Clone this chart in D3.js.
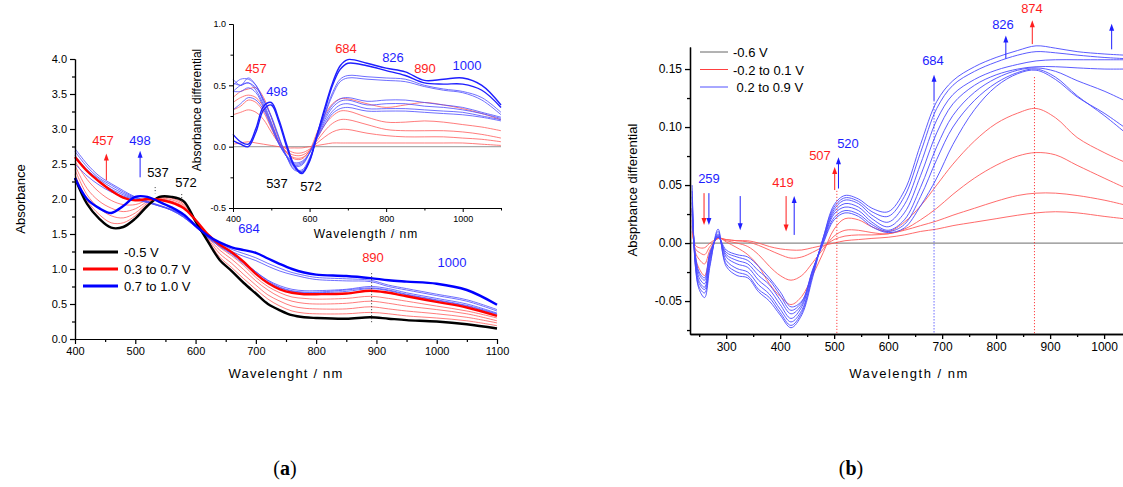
<!DOCTYPE html>
<html>
<head>
<meta charset="utf-8">
<script src="https://cdn.jsdelivr.net/npm/d3@7"></script>
<style>
body { margin: 0; background: #fff; }
text { font-family: "Liberation Sans", Arial, sans-serif; }
</style>
</head>
<body>
<script>
const w = 1123;
const h = 487;

// ---- panel (a), main spectra ----
const wlA = [400,420,440,460,480,500,520,540,560,580,600,620,640,660,680,700,720,740,760,780,800,850,890,920,950,1000,1050,1100];
const blackA = [2.3,1.93,1.72,1.59,1.6,1.72,1.9,2.03,2.03,1.97,1.68,1.4,1.13,0.97,0.8,0.65,0.5,0.41,0.34,0.31,0.3,0.29,0.31,0.29,0.27,0.25,0.21,0.15];
const redThickA = [2.6,2.4,2.25,2.12,2.02,1.98,2.0,1.99,1.95,1.87,1.7,1.5,1.35,1.24,1.1,0.93,0.8,0.71,0.66,0.64,0.64,0.65,0.69,0.66,0.61,0.53,0.45,0.33];
const redThinA = [
  [2.35,1.98,1.78,1.66,1.66,1.76,1.92,2.03,2.02,1.95,1.7,1.42,1.17,1.02,0.86,0.71,0.57,0.47,0.4,0.37,0.36,0.36,0.38,0.36,0.33,0.3,0.26,0.19],
  [2.42,2.06,1.87,1.76,1.73,1.8,1.94,2.02,2.01,1.93,1.7,1.44,1.22,1.08,0.92,0.77,0.63,0.54,0.47,0.44,0.43,0.43,0.46,0.43,0.4,0.36,0.31,0.23],
  [2.48,2.15,1.97,1.87,1.82,1.86,1.96,2.01,1.99,1.91,1.7,1.46,1.27,1.14,0.99,0.83,0.7,0.6,0.54,0.51,0.5,0.51,0.54,0.51,0.47,0.42,0.36,0.26],
  [2.54,2.28,2.1,1.98,1.92,1.92,1.98,2.0,1.97,1.89,1.7,1.48,1.31,1.19,1.05,0.88,0.75,0.66,0.6,0.58,0.57,0.58,0.61,0.58,0.54,0.47,0.4,0.3]
];
const blueThickA = [2.3,2.0,1.87,1.8,1.9,2.03,2.03,1.96,1.88,1.78,1.62,1.48,1.38,1.31,1.27,1.23,1.15,1.07,1.0,0.95,0.92,0.9,0.87,0.84,0.82,0.79,0.7,0.49];
const blueThinA = [
  [2.62,2.42,2.28,2.17,2.08,2.01,1.96,1.91,1.85,1.76,1.62,1.48,1.37,1.28,1.22,1.16,1.08,1.01,0.95,0.91,0.88,0.86,0.84,0.77,0.72,0.64,0.56,0.42],
  [2.68,2.46,2.3,2.2,2.1,2.02,1.96,1.9,1.84,1.75,1.61,1.46,1.34,1.25,1.18,1.12,1.04,0.97,0.92,0.88,0.85,0.83,0.82,0.75,0.7,0.62,0.54,0.4],
  [2.72,2.5,2.33,2.22,2.12,2.03,1.97,1.91,1.84,1.74,1.6,1.45,1.33,1.22,1.09,0.96,0.84,0.76,0.71,0.69,0.69,0.71,0.75,0.72,0.66,0.58,0.5,0.37],
  [2.58,2.4,2.25,2.14,2.06,2.0,1.95,1.9,1.84,1.74,1.6,1.45,1.32,1.21,1.07,0.93,0.81,0.73,0.68,0.66,0.66,0.68,0.72,0.69,0.63,0.55,0.47,0.35],
  [2.5,2.33,2.2,2.1,2.04,1.99,1.95,1.9,1.85,1.76,1.62,1.47,1.34,1.23,1.1,0.96,0.83,0.74,0.69,0.67,0.67,0.7,0.73,0.7,0.64,0.56,0.48,0.36]
];
const legendA = ["-0.5 V", "0.3 to 0.7 V", "0.7 to 1.0 V"];

// ---- panel (a), inset differential spectra ----
const wlI = [400,420,440,460,480,500,520,540,560,580,600,620,640,660,680,700,750,800,850,900,950,1000,1050,1100];
const redI = [
  [0.02,0.03,0.04,0.03,0.02,0.01,0.0,-0.01,-0.01,-0.01,0.0,0.01,0.02,0.03,0.03,0.03,0.03,0.03,0.03,0.03,0.03,0.03,0.02,0.01],
  [0.26,0.28,0.3,0.28,0.22,0.12,0.03,-0.02,-0.05,-0.05,-0.02,0.03,0.08,0.12,0.14,0.14,0.11,0.09,0.08,0.08,0.08,0.07,0.06,0.04],
  [0.3,0.33,0.38,0.36,0.28,0.15,0.03,-0.04,-0.07,-0.07,-0.03,0.05,0.13,0.19,0.22,0.22,0.18,0.14,0.13,0.13,0.13,0.12,0.1,0.07],
  [0.36,0.4,0.42,0.4,0.32,0.18,0.04,-0.05,-0.09,-0.09,-0.04,0.07,0.18,0.25,0.29,0.29,0.24,0.2,0.2,0.21,0.2,0.18,0.16,0.13],
  [0.4,0.45,0.47,0.48,0.4,0.24,0.06,-0.05,-0.1,-0.1,-0.03,0.12,0.26,0.35,0.39,0.39,0.35,0.32,0.34,0.36,0.34,0.31,0.27,0.22]
];
const blueThickI = [
  [0.05,0.02,0.0,0.12,0.3,0.34,0.2,0.0,-0.16,-0.22,-0.12,0.1,0.32,0.52,0.66,0.71,0.68,0.64,0.61,0.54,0.55,0.56,0.5,0.34],
  [0.1,0.04,0.02,0.15,0.33,0.36,0.22,0.02,-0.15,-0.21,-0.11,0.1,0.3,0.5,0.63,0.68,0.66,0.62,0.58,0.52,0.51,0.51,0.46,0.32]
];
const blueThinI = [
  [0.45,0.5,0.52,0.48,0.38,0.25,0.08,-0.08,-0.19,-0.2,-0.1,0.08,0.27,0.44,0.55,0.58,0.57,0.56,0.55,0.5,0.47,0.45,0.4,0.28],
  [0.5,0.55,0.55,0.5,0.38,0.24,0.07,-0.08,-0.18,-0.19,-0.09,0.08,0.26,0.42,0.53,0.56,0.55,0.54,0.53,0.49,0.46,0.44,0.38,0.26],
  [0.55,0.5,0.56,0.5,0.36,0.2,0.04,-0.08,-0.16,-0.15,-0.05,0.1,0.24,0.34,0.39,0.4,0.37,0.38,0.38,0.36,0.34,0.32,0.28,0.24],
  [0.52,0.5,0.52,0.46,0.34,0.19,0.03,-0.08,-0.15,-0.14,-0.05,0.09,0.22,0.32,0.37,0.38,0.34,0.35,0.35,0.33,0.32,0.3,0.27,0.23],
  [0.45,0.45,0.48,0.44,0.32,0.17,0.02,-0.08,-0.14,-0.13,-0.05,0.08,0.2,0.29,0.34,0.35,0.31,0.31,0.31,0.3,0.29,0.28,0.25,0.22],
  [0.3,0.35,0.4,0.38,0.3,0.16,0.02,-0.07,-0.13,-0.12,-0.05,0.07,0.18,0.27,0.31,0.32,0.29,0.29,0.29,0.28,0.27,0.26,0.24,0.21]
];

// ---- panel (b) ----
const wlB = [237,243,250,260,270,285,300,320,340,360,380,400,420,440,460,480,500,520,545,570,600,630,660,690,720,760,800,840,874,910,950,1000,1037];
const blueB = [
  [0.05,-0.02,-0.04,-0.047,-0.02,0.012,-0.02,-0.028,-0.03,-0.042,-0.05,-0.062,-0.073,-0.062,-0.03,0.005,0.033,0.041,0.038,0.03,0.027,0.045,0.085,0.122,0.14,0.152,0.16,0.166,0.17,0.168,0.165,0.163,0.162],
  [0.045,-0.02,-0.038,-0.043,-0.018,0.01,-0.018,-0.025,-0.028,-0.04,-0.047,-0.06,-0.071,-0.06,-0.028,0.005,0.031,0.039,0.036,0.027,0.023,0.04,0.078,0.116,0.136,0.148,0.156,0.162,0.165,0.164,0.162,0.16,0.159],
  [0.04,-0.018,-0.035,-0.04,-0.015,0.008,-0.015,-0.022,-0.025,-0.036,-0.044,-0.057,-0.068,-0.058,-0.027,0.004,0.029,0.037,0.034,0.024,0.018,0.033,0.068,0.106,0.128,0.141,0.149,0.154,0.157,0.158,0.158,0.158,0.158],
  [0.035,-0.016,-0.033,-0.038,-0.013,0.007,-0.012,-0.018,-0.021,-0.032,-0.04,-0.053,-0.065,-0.055,-0.025,0.003,0.027,0.034,0.031,0.021,0.014,0.026,0.058,0.095,0.12,0.136,0.145,0.15,0.152,0.152,0.151,0.15,0.15],
  [0.03,-0.014,-0.03,-0.035,-0.011,0.006,-0.01,-0.015,-0.018,-0.028,-0.036,-0.049,-0.061,-0.053,-0.024,0.002,0.025,0.031,0.028,0.018,0.011,0.02,0.048,0.083,0.11,0.13,0.142,0.149,0.151,0.148,0.14,0.131,0.123],
  [0.028,-0.012,-0.027,-0.032,-0.009,0.005,-0.008,-0.012,-0.015,-0.024,-0.032,-0.045,-0.058,-0.051,-0.023,0.001,0.022,0.028,0.025,0.016,0.01,0.016,0.04,0.072,0.1,0.123,0.138,0.147,0.15,0.143,0.127,0.11,0.096],
  [0.025,-0.01,-0.025,-0.03,-0.008,0.005,-0.006,-0.01,-0.012,-0.02,-0.03,-0.042,-0.055,-0.05,-0.024,0.0,0.02,0.026,0.023,0.014,0.009,0.013,0.032,0.056,0.085,0.115,0.135,0.146,0.149,0.141,0.126,0.112,0.1]
];
const redB = [
  [0.01,-0.002,-0.004,-0.004,0.0,0.004,0.003,0.002,0.002,0.0,-0.003,-0.005,-0.006,-0.006,-0.004,-0.002,0.0,0.002,0.003,0.004,0.005,0.007,0.01,0.012,0.015,0.018,0.021,0.024,0.026,0.027,0.026,0.023,0.021],
  [0.015,-0.005,-0.008,-0.01,-0.003,0.004,0.003,0.002,0.001,-0.002,-0.006,-0.01,-0.013,-0.012,-0.008,-0.003,0.003,0.006,0.007,0.007,0.008,0.011,0.015,0.019,0.024,0.03,0.036,0.041,0.043,0.043,0.041,0.037,0.033],
  [0.02,-0.008,-0.014,-0.018,-0.006,0.004,0.002,0.0,-0.003,-0.01,-0.02,-0.028,-0.032,-0.028,-0.017,-0.005,0.006,0.011,0.011,0.009,0.008,0.012,0.02,0.03,0.042,0.056,0.067,0.075,0.078,0.076,0.067,0.056,0.048],
  [0.03,-0.012,-0.022,-0.028,-0.01,0.005,0.001,-0.004,-0.01,-0.02,-0.035,-0.046,-0.053,-0.046,-0.028,-0.008,0.012,0.021,0.02,0.014,0.01,0.018,0.032,0.05,0.068,0.088,0.103,0.112,0.116,0.108,0.091,0.078,0.07]
];
const legendB = ["-0.6 V", "-0.2 to 0.1 V", " 0.2 to 0.9 V"];

const red = "#ff1e1e";
const blue = "#1e1eff";
const redThin = "#ff5a5a";
const blueThin = "#4a4aff";

const svg = d3.select("body").append("svg").attr("width", w).attr("height", h);

// scales
const xA = d3.scaleLinear().domain([400, 1100]).range([75, 497]);
const yA = d3.scaleLinear().domain([0, 4]).range([339, 59]);
const xI = d3.scaleLinear().domain([400, 1100]).range([233, 501]);
const yI = d3.scaleLinear().domain([-0.5, 1]).range([208, 24]);
const xB = d3.scaleLinear().domain([233, 1035]).range([690, 1123]);
const yB = d3.scaleLinear().domain([-0.0784, 0.169]).range([334, 47]);

const fmt = (f) => (d) => d3.format(f)(d).replace("\u2212", "-");

function drawAxes(x, y, o) {
	const xMinor = d3.range(o.xMin[0], o.xMin[1] + 1, o.xMin[2]);
	const yMinor = d3.range(o.yMin[0], o.yMin[1] + 1e-9, o.yMin[2]);
	const gx = svg.append("g").attr("transform", "translate(0," + y.range()[0] + ")");
	gx.call(d3.axisBottom(x).tickValues(xMinor).tickSize(o.minor).tickSizeOuter(0).tickFormat(""));
	gx.append("g").call(d3.axisBottom(x).tickValues(o.xMaj).tickSize(o.major).tickSizeOuter(0).tickFormat(d3.format("d")));
	const gy = svg.append("g").attr("transform", "translate(" + x.range()[0] + ",0)");
	gy.call(d3.axisLeft(y).tickValues(yMinor).tickSize(o.minor).tickSizeOuter(0).tickFormat(""));
	gy.append("g").call(d3.axisLeft(y).tickValues(o.yMaj).tickSize(o.major).tickSizeOuter(0).tickFormat(fmt(o.yFmt)));
	[gx, gy].forEach((g) => {
		g.selectAll("path.domain").attr("stroke", "#000").attr("stroke-width", o.lw);
		g.selectAll("line").attr("stroke", "#000").attr("stroke-width", o.lw);
		g.selectAll("text").attr("fill", "#000").style("font-size", o.fs + "px")
			.style("font-family", "'Liberation Sans', Arial, sans-serif");
	});
	gx.selectAll("text").attr("dy", o.fs * 0.75 + "px");
}

function drawLines(x, y, wl, series, color, width) {
	const line = d3.line().x((d, i) => x(wl[i])).y((d) => y(d)).curve(d3.curveCatmullRom.alpha(0.5));
	series.forEach((s) => {
		svg.append("path").datum(s).attr("d", line)
			.attr("fill", "none").attr("stroke", color).attr("stroke-width", width)
			.attr("stroke-linejoin", "round");
	});
}

function label(x, y, t, color, size, anchor) {
	return svg.append("text").attr("x", x).attr("y", y).attr("fill", color)
		.attr("text-anchor", anchor || "middle").style("font-size", (size || 13) + "px").text(t);
}

function arrow(x, y, wv, v0, v1, color) {
	const px = x(wv), p0 = y(v0), p1 = y(v1);
	const dir = p1 < p0 ? 1 : -1;
	svg.append("line").attr("x1", px).attr("x2", px).attr("y1", p0).attr("y2", p1 + dir * 5)
		.attr("stroke", color).attr("stroke-width", 1);
	svg.append("path")
		.attr("d", "M" + (px - 2.5) + "," + (p1 + dir * 7) + "L" + px + "," + p1 + "L" + (px + 2.5) + "," + (p1 + dir * 7) + "Z")
		.attr("fill", color);
}

function dotted(x, y, wv, v0, v1, color) {
	svg.append("line").attr("x1", x(wv)).attr("x2", x(wv)).attr("y1", y(v0)).attr("y2", y(v1))
		.attr("stroke", color).attr("stroke-width", 1).attr("stroke-dasharray", "1,2");
}

// ===== panel (a) main =====
drawLines(xA, yA, wlA, redThinA, redThin, 0.8);
drawLines(xA, yA, wlA, blueThinA, blueThin, 0.8);
drawLines(xA, yA, wlA, [blackA], "#000", 2.4);
drawLines(xA, yA, wlA, [redThickA], "#ff0000", 2.4);
drawLines(xA, yA, wlA, [blueThickA], "#0000ff", 2.4);

drawAxes(xA, yA, {
	xMaj: d3.range(400, 1101, 100), xMin: [450, 1050, 100],
	yMaj: d3.range(0, 4.01, 0.5), yMin: [0.25, 3.75, 0.5],
	yFmt: ".1f", major: 5, minor: 3, lw: 1.2, fs: 11
});

label(20, 199, "Absorbance", "#000", 13).attr("transform", "rotate(-90,20,199)").attr("dy", "0.35em");
label(286, 378, "Wavelenght / nm", "#000", 13).style("letter-spacing", "1.2px");

arrow(xA, yA, 452, 2.27, 2.65, red);
arrow(xA, yA, 508, 2.31, 2.69, blue);
label(103, 145, "457", red);
label(140, 145, "498", blue);
label(158, 177, "537", "#000");
label(186, 187, "572", "#000");
dotted(xA, yA, 533, 2.17, 2.08, "#333");
dotted(xA, yA, 577, 2.07, 1.97, "#333");
dotted(xA, yA, 892, 0.94, 0.24, "#333");
label(249, 233, "684", blue);
label(373, 262, "890", red);
label(452, 267, "1000", blue);

// legend (a)
legendA.forEach((t, i) => {
	const yy = 252 + i * 17;
	const c = ["#000", "#ff0000", "#0000ff"][i];
	svg.append("line").attr("x1", 83).attr("x2", 118).attr("y1", yy).attr("y2", yy)
		.attr("stroke", c).attr("stroke-width", 3);
	label(124, yy + 5, t, "#000", 13, "start");
});

// ===== panel (a) inset =====
svg.append("line").attr("x1", xI(400)).attr("x2", xI(1100)).attr("y1", yI(0)).attr("y2", yI(0))
	.attr("stroke", "#aaa").attr("stroke-width", 1.2);
drawLines(xI, yI, wlI, redI, redThin, 0.8);
drawLines(xI, yI, wlI, blueThinI, blueThin, 0.8);
drawLines(xI, yI, wlI, blueThickI, blue, 1.4);

drawAxes(xI, yI, {
	xMaj: [400, 600, 800, 1000], xMin: [500, 1100, 200],
	yMaj: [-0.5, 0, 0.5, 1.0], yMin: [-0.25, 0.75, 0.5],
	yFmt: ".1f", major: 4, minor: 2.5, lw: 1, fs: 9
});

label(197, 110, "Absorbance differential", "#000", 12).attr("transform", "rotate(-90,197,110)").attr("dy", "0.35em");
label(366, 238, "Wavelength / nm", "#000", 12).style("letter-spacing", "1px");
label(256, 73, "457", red);
label(277, 96, "498", blue);
label(277, 188, "537", "#000");
label(311, 191, "572", "#000");
label(346, 53, "684", red);
label(393, 62, "826", blue);
label(425, 73, "890", red);
label(467, 70, "1000", blue);

// ===== panel (b) =====
svg.append("line").attr("x1", xB(233)).attr("x2", xB(1035)).attr("y1", yB(0)).attr("y2", yB(0))
	.attr("stroke", "#8a8a8a").attr("stroke-width", 1.3);
drawLines(xB, yB, wlB, redB, redThin, 0.9);
drawLines(xB, yB, wlB, blueB, blueThin, 0.9);

drawAxes(xB, yB, {
	xMaj: d3.range(300, 1001, 100), xMin: [250, 1000, 100],
	yMaj: [-0.05, 0, 0.05, 0.1, 0.15], yMin: [-0.075, 0.125, 0.05],
	yFmt: ".2f", major: 5, minor: 3, lw: 1.3, fs: 12
});

label(632, 190, "Absprbance differential", "#000", 13).attr("transform", "rotate(-90,632,190)").attr("dy", "0.35em");
label(909, 378, "Wavelength / nm", "#000", 13).style("letter-spacing", "1.5px");

dotted(xB, yB, 505, 0.045, -0.0784, red);
dotted(xB, yB, 685, 0.123, -0.0784, blue);
dotted(xB, yB, 871, 0.143, -0.0784, red);

arrow(xB, yB, 259, 0.043, 0.0155, red);
arrow(xB, yB, 268, 0.043, 0.0155, blue);
arrow(xB, yB, 326, 0.0405, 0.011, blue);
arrow(xB, yB, 411, 0.0405, 0.010, red);
arrow(xB, yB, 426, 0.007, 0.0405, blue);
arrow(xB, yB, 501, 0.0457, 0.0655, red);
arrow(xB, yB, 508, 0.047, 0.074, blue);
arrow(xB, yB, 685, 0.123, 0.145, blue);
arrow(xB, yB, 818, 0.159, 0.179, blue);
arrow(xB, yB, 867, 0.1715, 0.192, red);
arrow(xB, yB, 1014, 0.167, 0.189, blue);

label(709, 183, "259", blue);
label(783, 187, "419", red);
label(820, 160, "507", red);
label(848, 148, "520", blue);
label(933, 65, "684", blue);
label(1003, 29, "826", blue);
label(1032, 13, "874", red);

legendB.forEach((t, i) => {
	const yy = 52 + i * 17.5;
	const c = ["#666", "#ff4040", "#5050ff"][i];
	svg.append("line").attr("x1", 700).attr("x2", 728).attr("y1", yy).attr("y2", yy)
		.attr("stroke", c).attr("stroke-width", 1);
	label(733, yy + 5, t, "#000", 13, "start").attr("xml:space", "preserve");
});

// captions
[["a", 285], ["b", 851]].forEach(([c, x]) => {
	const t = svg.append("text").attr("x", x).attr("y", 475).attr("text-anchor", "middle")
		.style("font-family", "'Liberation Serif', serif").style("font-size", "20px");
	t.append("tspan").text("(");
	t.append("tspan").style("font-weight", "bold").text(c);
	t.append("tspan").text(")");
});
</script>
</body>
</html>
